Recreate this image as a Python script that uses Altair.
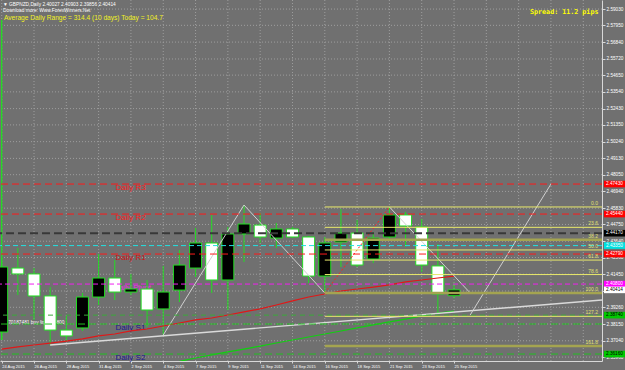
import json
import altair as alt
import pandas as pd

# ---------------- data ----------------
date_labels = ["24 Aug 2015", "26 Aug 2015", "28 Aug 2015", "31 Aug 2015", "2 Sep 2015",
               "4 Sep 2015", "7 Sep 2015", "9 Sep 2015", "11 Sep 2015", "14 Sep 2015",
               "16 Sep 2015", "18 Sep 2015", "21 Sep 2015", "23 Sep 2015", "25 Sep 2015"]

opens = [2.3762, 2.4186, 2.4147, 2.4001, 2.3775, 2.3789, 2.3994, 2.4120, 2.4027, 2.4047,
         2.3915, 2.4040, 2.4186, 2.4352, 2.4107, 2.4412, 2.4471, 2.4385, 2.4445, 2.4392,
         2.4133, 2.4359, 2.4418, 2.4246, 2.4392, 2.4538, 2.4458, 2.4200, 2.40027]
highs = [2.4253, 2.4319, 2.4186, 2.4060, 2.3868, 2.4021, 2.4279, 2.4239, 2.4147, 2.4107,
         2.4200, 2.4306, 2.4452, 2.4538, 2.4458, 2.4604, 2.4551, 2.4485, 2.4458, 2.4399,
         2.4392, 2.4578, 2.4505, 2.4425, 2.4591, 2.4558, 2.4511, 2.4345, 2.40903]
lows = [2.3709, 2.4007, 2.3842, 2.3676, 2.3702, 2.3769, 2.3941, 2.3974, 2.4007, 2.3795,
        2.3742, 2.3961, 2.4127, 2.4021, 2.3908, 2.4226, 2.4352, 2.4319, 2.4385, 2.4087,
        2.4021, 2.4193, 2.4193, 2.4219, 2.4372, 2.4326, 2.4160, 2.3881, 2.39856]
closes = [2.4193, 2.4147, 2.4001, 2.3775, 2.3736, 2.3994, 2.4120, 2.4027, 2.4047, 2.3908,
          2.4027, 2.4206, 2.4352, 2.4107, 2.4412, 2.4478, 2.4392, 2.4445, 2.4392, 2.4133,
          2.4352, 2.4418, 2.4206, 2.4385, 2.4538, 2.4465, 2.4206, 2.4014, 2.40414]

ma_red = [2.3649, 2.3663, 2.3676, 2.3689, 2.3702, 2.3716, 2.3736, 2.3749, 2.3769, 2.3782,
          2.3802, 2.3822, 2.3842, 2.3855, 2.3875, 2.3895, 2.3915, 2.3941, 2.3968, 2.3994,
          2.4014, 2.4034, 2.4047, 2.4060, 2.4074, 2.4094, 2.4107, 2.4120, 2.4133]
ma_green_idx = list(range(11, 29))
ma_green = [2.3567, 2.3590, 2.3610, 2.3630, 2.3649, 2.3669, 2.3689, 2.3709, 2.3729,
            2.3749, 2.3769, 2.3789, 2.3809, 2.3829, 2.3848, 2.3868, 2.3888, 2.3901]

price_ticks = [2.35960, 2.37040, 2.38150, 2.39260, 2.40340, 2.41450, 2.42560, 2.43640,
               2.44750, 2.45830, 2.46940, 2.48050, 2.49130, 2.50240, 2.51350, 2.52430,
               2.53540, 2.54650, 2.55720, 2.56840, 2.57950, 2.59030]
hidden_tick = 2.40340  # covered by the Bid box in the reference

pivot_names = ["Daily R3", "Daily R2", "Daily R1", "Daily Pivot", "Daily S1", "Daily S2"]
pivot_values = [2.4743, 2.4544, 2.4279, 2.4080, 2.3815, 2.3616]
dark_level = 2.4417
cyan_level = 2.4335
green_level = 2.3874
bid = 2.40414

fib_names = ["0.0", "23.6", "38.2", "50.0", "61.8", "78.6", "100.0", "127.2", "161.8"]
fib_values = [2.4591, 2.4456, 2.4373, 2.4306, 2.4239, 2.4143, 2.4021, 2.3866, 2.3669]
fib_start = 20

zigzag_idx = [10, 15, 20]
zigzag_val = [2.3742, 2.4604, 2.4021]
fibline_idx = [20, 24]
fibline_val = [2.4021, 2.4591]
proj1_idx = [24, 29]
proj1_val = [2.4591, 2.4021]
proj2_idx = [29, 34]
proj2_val = [2.3875, 2.4743]
trend_idx = [3, 37.16]
trend_val = [2.3676, 2.3974]
marker_idx = 0
marker_top = 2.5830

header = "\u25bc GBPNZD,Daily  2.40027 2.40903 2.39856 2.40414"
download = "Download more: Www.ForexWinners.Net"
adr = "Average Daily Range = 314.4 (10 days)   Today = 104.7"
spread = "Spread: 11.2 pips"
order_text = "70187481 buy limit 2.3800"

# ---------------- scales / axes ----------------
XMIN, XMAX = -0.105, 37.16
YMIN, YMAX = 2.35699, 2.5963
W, H = 602, 361
FONT = "Liberation Sans"
BG = "#707070"

xs = alt.Scale(domain=[XMIN, XMAX], nice=False, zero=False)
ys = alt.Scale(domain=[YMIN, YMAX], nice=False, zero=False)
label_expr = "datum.value <= 28 ? " + json.dumps(date_labels) + "[round(datum.value/2)] : ''"
xaxis = alt.Axis(values=list(range(0, 29, 2)), labelExpr=label_expr, labelAlign="left",
                 labelBaseline="top", labelFontSize=4, labelColor="#ffffff", labelPadding=1,
                 tickSize=2, tickColor="#d8d8d8", domainColor="#d8d8d8", grid=False,
                 title=None, labelFlush=False, labelOverlap=False, labelFont=FONT)
ylabel_expr = f"abs(datum.value - {hidden_tick}) < 0.00001 ? '' : format(datum.value, '.5f')"
yaxis = alt.Axis(orient="right", values=price_ticks, labelExpr=ylabel_expr, labelFontSize=4.7,
                 labelColor="#ffffff", labelPadding=1, tickSize=3, tickColor="#d8d8d8",
                 domainColor="#d8d8d8", grid=False, title=None, labelFont=FONT,
                 labelOverlap=False, labelFlush=False)


def X(f, **kw):
    return alt.X(f, type="quantitative", scale=xs, axis=xaxis, **kw)


def Y(f, **kw):
    return alt.Y(f, type="quantitative", scale=ys, axis=yaxis, **kw)


layers = []

# grid
vgrid = pd.DataFrame({"i": list(range(0, 37, 2))})
layers.append(alt.Chart(vgrid).mark_rule(color="#9e9e9e", strokeDash=[1, 2], strokeWidth=1)
              .encode(x=X("i")))
hgrid = pd.DataFrame({"p": price_ticks})
layers.append(alt.Chart(hgrid).mark_rule(color="#9e9e9e", strokeDash=[1, 2], strokeWidth=1)
              .encode(y=Y("p")))

# texts under candles
layers.append(alt.Chart(pd.DataFrame({"t": [header]})).mark_text(
    align="left", baseline="middle", fontSize=4.8, color="#ffffff", font=FONT)
    .encode(x=alt.value(3), y=alt.value(4.5), text="t"))
layers.append(alt.Chart(pd.DataFrame({"t": [download]})).mark_text(
    align="left", baseline="middle", fontSize=4.8, color="#ffffff", font=FONT)
    .encode(x=alt.value(3), y=alt.value(11), text="t"))
layers.append(alt.Chart(pd.DataFrame({"t": [adr]})).mark_text(
    align="left", baseline="middle", fontSize=6.6, color="#f2f21e", font=FONT)
    .encode(x=alt.value(4), y=alt.value(18), text="t"))
layers.append(alt.Chart(pd.DataFrame({"t": [spread]})).mark_text(
    align="left", baseline="middle", fontSize=6.7, color="#ffff00", font="DejaVu Sans Mono",
    fontWeight="bold").encode(x=alt.value(530), y=alt.value(12), text="t"))
layers.append(alt.Chart(pd.DataFrame({"t": [order_text], "i": [0.4], "p": [2.3823]})).mark_text(
    align="left", baseline="middle", fontSize=4.8, color="#ffffff", font=FONT)
    .encode(x=X("i"), y=Y("p"), text="t"))

piv_colors = ["#ff2020", "#ff2020", "#d01010", "#ee30ee", "#1a1a90", "#1a1a90"]
for name, val, col in zip(pivot_names, pivot_values, piv_colors):
    d = pd.DataFrame({"t": [name], "i": [7.05 if name != "Daily Pivot" else 6.9], "p": [val]})
    layers.append(alt.Chart(d).mark_text(align="left", baseline="middle", dy=3.5, fontSize=8,
                                         color=col, font=FONT)
                  .encode(x=X("i"), y=Y("p"), text="t"))

# vertical marker line
layers.append(alt.Chart(pd.DataFrame({"i": [marker_idx], "a": [marker_top], "b": [lows[0]]}))
              .mark_rule(color="#22dd22", strokeWidth=1.3).encode(x=X("i"), y=Y("a"), y2="b"))

# candles
cd = pd.DataFrame({"i": list(range(len(opens))), "o": opens, "h": highs, "l": lows, "c": closes})
cd["lo"] = cd[["o", "c"]].min(axis=1)
cd["hi"] = cd[["o", "c"]].max(axis=1)
cd["x0"] = cd["i"] - 0.37
cd["x1"] = cd["i"] + 0.37
cd["bull"] = cd["c"] >= cd["o"]
layers.append(alt.Chart(cd).mark_rule(color="#22dd22", strokeWidth=1)
              .encode(x=X("i"), y=Y("l"), y2="h"))
layers.append(alt.Chart(cd[cd["bull"]]).mark_rect(fill="#000000", stroke="#22dd22", strokeWidth=1)
              .encode(x=X("x0"), x2="x1", y=Y("lo"), y2="hi"))
layers.append(alt.Chart(cd[~cd["bull"]]).mark_rect(fill="#ffffff", stroke="#22dd22", strokeWidth=1)
              .encode(x=X("x0"), x2="x1", y=Y("lo"), y2="hi"))

# indicator lines
red = pd.DataFrame({"i": list(range(len(ma_red))), "p": ma_red})
layers.append(alt.Chart(red).mark_line(color="#e01818", strokeWidth=1.2, clip=True)
              .encode(x=X("i"), y=Y("p")))
grn = pd.DataFrame({"i": ma_green_idx, "p": ma_green})
layers.append(alt.Chart(grn).mark_line(color="#10d010", strokeWidth=1.2, clip=True)
              .encode(x=X("i"), y=Y("p")))


def seg(ix, vals, color, width=1.0, dash=None):
    d = pd.DataFrame({"i": ix, "p": vals, "o": list(range(len(ix)))})
    kw = dict(color=color, strokeWidth=width, clip=True)
    if dash:
        kw["strokeDash"] = dash
    return alt.Chart(d).mark_line(**kw).encode(x=X("i"), y=Y("p"), order="o")


layers.append(seg(trend_idx, trend_val, "#dadada", 1.4))
layers.append(seg(zigzag_idx, zigzag_val, "#d0d0d0", 1.0))
layers.append(seg(proj1_idx, proj1_val, "#d0d0d0", 1.0))
layers.append(seg(proj2_idx, proj2_val, "#d0d0d0", 1.0))
layers.append(seg(fibline_idx, fibline_val, "#ff2020", 1.0, [2, 2]))

# horizontal levels
lvl_styles = [("#ff1a1a", [7, 4], 1), ("#ff1a1a", [7, 4], 1), ("#ff1a1a", [7, 4], 1),
              ("#f020f0", [5, 3], 1), ("#22c022", [7, 4], 1), ("#22c022", [7, 4], 1)]
for val, (col, dash, w) in zip(pivot_values, lvl_styles):
    layers.append(alt.Chart(pd.DataFrame({"p": [val]})).mark_rule(color=col, strokeDash=dash, strokeWidth=w)
                  .encode(y=Y("p")))
layers.append(alt.Chart(pd.DataFrame({"p": [dark_level]})).mark_rule(color="#383838", strokeDash=[8, 4], strokeWidth=2)
              .encode(y=Y("p")))
layers.append(alt.Chart(pd.DataFrame({"p": [cyan_level]})).mark_rule(color="#22e0e0", strokeDash=[5, 3], strokeWidth=1)
              .encode(y=Y("p")))
layers.append(alt.Chart(pd.DataFrame({"p": [green_level]})).mark_rule(color="#3aa83a", strokeDash=[5, 4], strokeWidth=1)
              .encode(y=Y("p")))

# fibonacci levels
thick = {"38.2", "100.0", "161.8"}
fd = pd.DataFrame({"n": fib_names, "p": fib_values})
fd["x0"] = fib_start
fd["x1"] = XMAX
layers.append(alt.Chart(fd[~fd["n"].isin(thick)]).mark_rule(color="#e8e86a", strokeWidth=1)
              .encode(x=X("x0"), x2="x1", y=Y("p")))
layers.append(alt.Chart(fd[fd["n"].isin(thick)]).mark_rule(color="#a4a450", strokeWidth=2.5)
              .encode(x=X("x0"), x2="x1", y=Y("p")))
layers.append(alt.Chart(fd).mark_text(align="right", baseline="bottom", dy=-1, fontSize=5,
                                      color="#e0e070", font=FONT)
              .encode(x=alt.value(598), y=Y("p"), text="n"))

# right-axis price boxes
half = 3.3 / (H / (YMAX - YMIN))
box_vals = [pivot_values[0], pivot_values[1], dark_level, cyan_level, pivot_values[2],
            pivot_values[3], bid, green_level, pivot_values[5]]
box_fill = ["#ff0000", "#ff0000", "#000000", "#00e0e0", "#ff0000", "#ff00ff", "#ffffff",
            "#00c800", "#00c800"]
box_text = ["#ffffff", "#ffffff", "#ffffff", "#ffffff", "#ffffff", "#ffffff", "#000000",
            "#000000", "#000000"]
for v, f, tc in zip(box_vals, box_fill, box_text):
    d = pd.DataFrame({"p": [v], "a": [v - half], "b": [v + half], "t": [f"{v:.5f}"]})
    layers.append(alt.Chart(d).mark_rect(fill=f).encode(
        x=alt.value(604), x2=alt.value(625), y=Y("a"), y2="b"))
    layers.append(alt.Chart(d).mark_text(align="left", baseline="middle", fontSize=4.7,
                                         color=tc, font=FONT)
                  .encode(x=alt.value(606), y=Y("p"), text="t"))

chart = alt.layer(*layers).properties(
    width=W, height=H,
    padding={"left": 0, "top": 0, "right": 23, "bottom": 9},
    autosize=alt.AutoSizeParams(type="none"),
).configure(background=BG).configure_view(stroke=None)

chart.save("out.html", embed_options={"renderer": "svg", "actions": False})
